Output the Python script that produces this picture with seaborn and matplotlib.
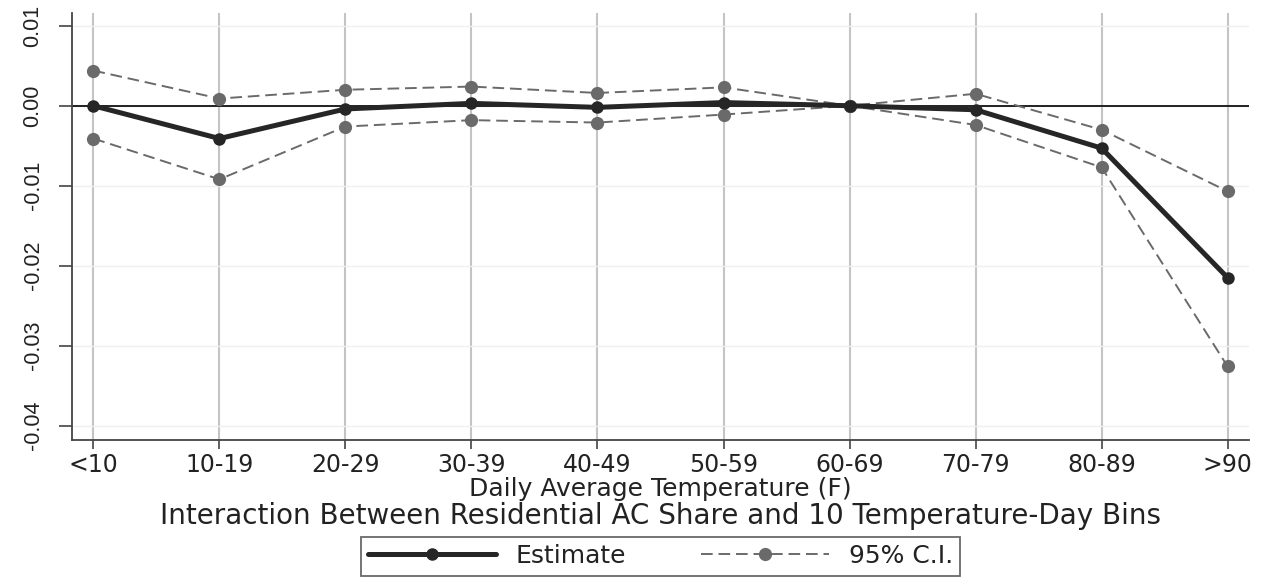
import matplotlib
matplotlib.use("Agg")
import matplotlib.pyplot as plt
from matplotlib.lines import Line2D
import seaborn as sns
import pandas as pd

categories = ["<10", "10-19", "20-29", "30-39", "40-49", "50-59", "60-69", "70-79", "80-89", ">90"]
estimate = [0.0000, -0.0041, -0.0004, 0.0003, -0.0002, 0.0004, 0.0000, -0.0005, -0.0053, -0.0215]
upper_ci = [0.0044, 0.0009, 0.0020, 0.0024, 0.0016, 0.0023, 0.0000, 0.0015, -0.0030, -0.0107]
lower_ci = [-0.0041, -0.0092, -0.0026, -0.0018, -0.0021, -0.0011, 0.0000, -0.0024, -0.0077, -0.0326]
y_ticks = [0.01, 0.00, -0.01, -0.02, -0.03, -0.04]
y_tick_labels = ["0.01", "0.00", "-0.01", "-0.02", "-0.03", "-0.04"]
x_title = "Daily Average Temperature (F)"
subtitle = "Interaction Between Residential AC Share and 10 Temperature-Day Bins"
legend_labels = ["Estimate", "95% C.I."]

sns.set_style("white")
plt.rcParams["font.family"] = ["DejaVu Sans"]

df = pd.DataFrame({"bin": categories, "estimate": estimate,
                   "upper": upper_ci, "lower": lower_ci})

W, H = 1281, 577
fig = plt.figure(figsize=(W / 100, H / 100), dpi=100)
ax = fig.add_axes([72 / W, 1 - 440 / H, (1249 - 72) / W, (440 - 13) / H])

ci_color = "#6a6a6a"
est_color = "#262626"
text_color = "#222222"
dash = (0, (6, 3))

for col in ["upper", "lower"]:
    sns.lineplot(data=df, x="bin", y=col, ax=ax, color=ci_color, linestyle=dash,
                 linewidth=1.4, marker="o", markersize=9.5, markeredgewidth=0,
                 markerfacecolor=ci_color, sort=False, zorder=3)
sns.lineplot(data=df, x="bin", y="estimate", ax=ax, color=est_color, linewidth=3.6,
             marker="o", markersize=9, markeredgewidth=0, markerfacecolor=est_color,
             sort=False, zorder=4)

ax.axhline(0, color="#111111", linewidth=1.3, zorder=2)

ax.set_xlim(-0.17, len(categories) - 1 + 0.17)
ax.set_ylim(-0.0418, 0.0116)
ax.set_yticks(y_ticks)
ax.set_yticklabels(y_tick_labels, rotation=90, va="center", fontsize=15.5,
                   family=["Liberation Sans", "DejaVu Sans"])
ax.set_xticks(range(len(categories)))
ax.set_xticklabels(categories, fontsize=17)

ax.xaxis.grid(True, color="#c4c4c4", linewidth=1.5)
ax.yaxis.grid(True, color="#efefef", linewidth=1.0)
ax.set_axisbelow(True)

for s in ["top", "right"]:
    ax.spines[s].set_visible(False)
for s in ["left", "bottom"]:
    ax.spines[s].set_color("#444444")
    ax.spines[s].set_linewidth(1.3)

ax.tick_params(axis="both", which="both", direction="out", width=1.2,
               color="#444444", left=True, bottom=True, labelcolor=text_color)
ax.tick_params(axis="x", length=6.5, pad=3)
ax.tick_params(axis="y", length=9.5, pad=11)

ax.set_xlabel(x_title, fontsize=18, color=text_color)
ax.xaxis.set_label_coords(0.5 * (72 + 1249) / W, 1 - 489 / H, transform=fig.transFigure)
ax.xaxis.label.set_va("center")
ax.set_ylabel("")

fig.text(0.5 * (72 + 1249) / W, 1 - 515.5 / H, subtitle,
         ha="center", va="center", fontsize=20, color=text_color)

handles = [
    Line2D([0], [0], color=est_color, linewidth=3.6, marker="o", markersize=9,
           markeredgewidth=0),
    Line2D([0], [0], color=ci_color, linewidth=1.4, linestyle=dash, marker="o",
           markersize=9.5, markeredgewidth=0),
]
leg = fig.legend(handles, legend_labels, loc="center",
                 bbox_to_anchor=(0.5 * (72 + 1249) / W, 1 - 556 / H), ncol=2,
                 fontsize=18, frameon=True, fancybox=False, handlelength=5.1,
                 columnspacing=3.0, handletextpad=0.8, borderpad=0.3, borderaxespad=0)
leg.get_frame().set_edgecolor("#444444")
leg.get_frame().set_linewidth(1.3)
for t in leg.get_texts():
    t.set_color(text_color)

fig.savefig("out.png", dpi=100, facecolor="white")
